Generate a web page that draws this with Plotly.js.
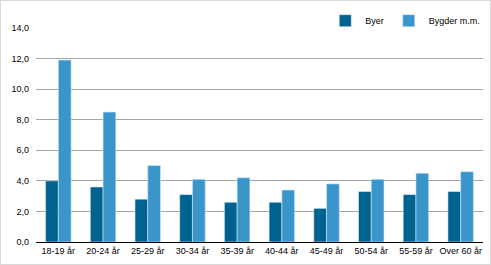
<!DOCTYPE html>
<html><head><meta charset="utf-8">
<script src="https://cdn.plot.ly/plotly-3.0.1.min.js"></script>
<style>html,body{margin:0;padding:0;background:#fff}#c{width:491px;height:265px;box-sizing:border-box;border:1px solid #d9d9d9}</style>
</head><body><div id="c"></div>
<script>
const categories = ["18-19 år","20-24 år","25-29 år","30-34 år","35-39 år","40-44 år","45-49 år","50-54 år","55-59 år","Over 60 år"];
const byer = [4.0,3.6,2.8,3.1,2.6,2.6,2.2,3.3,3.1,3.3];
const bygder = [11.9,8.5,5.0,4.1,4.2,3.4,3.8,4.1,4.5,4.6];
const yTicks = [0,2,4,6,8,10,12,14];

const font = {family:"Liberation Sans, Arial, sans-serif", size:9, color:"#000"};
Plotly.newPlot("c", [
  {type:"bar", name:"Byer", x:categories, y:byer, marker:{color:"#00628f", line:{color:"#d6e8f3", width:0.6}}},
  {type:"bar", name:"Bygder m.m.", x:categories, y:bygder, marker:{color:"#3a95cb", line:{color:"#d6e8f3", width:0.6}}}
], {
  width:489, height:263,
  margin:{l:35, r:7, t:4, b:22},
  paper_bgcolor:"#fff", plot_bgcolor:"#fff",
  font:font,
  separators:",.",
  barmode:"group", bargap:0.43, bargroupgap:0,
  showlegend:true,
  legend:{orientation:"h", x:1.005, xanchor:"right", y:0.995, yanchor:"top", font:font, itemwidth:30, tracegroupgap:0, traceorder:"normal", bgcolor:"rgba(0,0,0,0)"},
  xaxis:{showline:true, linecolor:"#000", linewidth:1, ticks:"", tickfont:font, fixedrange:true},
  yaxis:{domain:[0,0.903], range:[0,14], tickvals:yTicks, tickformat:".1f", showgrid:true, gridcolor:"#a6a6a6", gridwidth:1, zeroline:false, showline:false, ticks:"", tickfont:font, ticklabelstandoff:6}
}, {staticPlot:true});
</script></body></html>
